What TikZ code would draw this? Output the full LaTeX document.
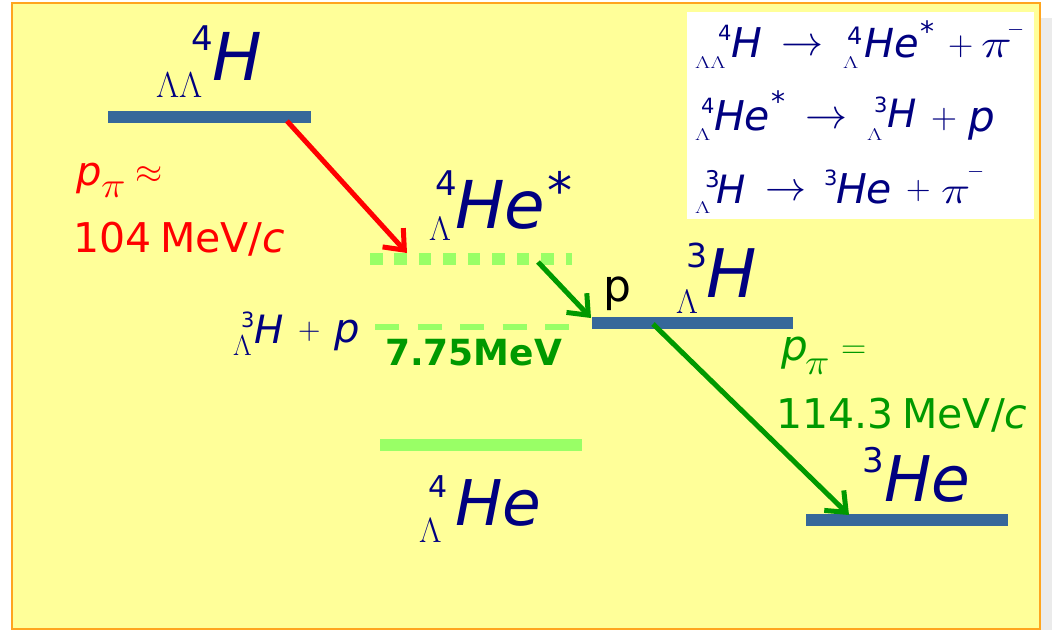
\RequirePackage{fix-cm}
\documentclass[tikz,border=0pt]{standalone}
\usepackage[no-math]{fontspec}
\setmainfont{DejaVu Sans}
\usetikzlibrary{arrows.meta}
\definecolor{navy}{RGB}{0,0,128}
\definecolor{dgreen}{RGB}{0,153,0}
\definecolor{lgreen}{RGB}{153,255,102}
\definecolor{barblue}{RGB}{54,104,154}
\definecolor{bgyellow}{RGB}{255,255,153}
\definecolor{bordor}{RGB}{255,165,30}
\definecolor{lgray}{RGB}{235,235,235}
\definecolor{pred}{RGB}{255,0,0}
\tikzset{
  lbl/.style={anchor=base west, inner sep=0pt, outer sep=0pt},
  arr/.style={line width=5pt, -{Straight Barb[length=17pt,width=28pt]}},
  barstyle/.style={fill=barblue},
  gbar/.style={fill=lgreen}
}
\newcommand\mylab[6][]{\node[lbl,#1,font=\fontsize{#5}{#5}\selectfont] (#2) at (#3,#4) {#6};}
\newcommand\sLam{\scalebox{1.4}[1]{$\Lambda$}}
\newcommand\wpi{\scalebox{1.3}[1]{$\pi$}}
\begin{document}
\begin{tikzpicture}[x=1pt,y=-1pt]
\useasboundingbox (0,0) rectangle (1052,630);
% background
\fill[white] (0,0) rectangle (1052,630);
\fill[lgray] (1041,18) rectangle (1052,630);
\fill[bgyellow] (12,3) rectangle (1040,629);
\draw[bordor, line width=2.5pt] (12,3) rectangle (1040,629);
\fill[white] (687,12) rectangle (1034,219);
% levels
\fill[barstyle] (108,111) rectangle (311,123);
\fill[barstyle] (592,317) rectangle (793,329);
\fill[barstyle] (806,514) rectangle (1008,526);
\fill[gbar] (380,439) rectangle (582,451);
\draw[lgreen, line width=11.7pt, dash pattern=on 12.5pt off 11.96pt] (370,259) -- (572,259);
\draw[lgreen, line width=6pt, dash pattern=on 24.3pt off 18.2pt] (375,327) -- (569,327);
% arrows
\coordinate (r1) at (287,121);
\coordinate (r2) at (407,253);
\coordinate (g1) at (538,262);
\coordinate (g2) at (591,318);
\coordinate (g3) at (653,324);
\coordinate (g4) at (849,515);
\draw[arr,pred] (r1) -- (r2);
\draw[arr,dgreen] (g1) -- (g2);
\draw[arr,dgreen] (g3) -- (g4);
% A
\mylab[navy]{aL}{156}{97}{36}{$\Lambda\Lambda$}
\mylab[navy]{aN}{191}{50}{34}{4}
\mylab[navy]{aH}{212}{80}{66}{\itshape H}
% B
\mylab[navy]{bL}{429}{240}{34}{$\Lambda$}
\mylab[navy]{bN}{435}{195}{34}{4}
\mylab[navy]{bH}{455}{228}{66}{\itshape He}
\mylab[navy]{bS}{547}{208}{50}{*}
% C
\mylab[navy]{cL}{233}{355}{29}{$\Lambda$}
\mylab[navy]{cN}{241}{327}{21}{3}
\mylab[navy]{cH}{254}{343}{39}{\itshape H}
\mylab[navy]{cP}{298}{339}{31}{$+$}
\mylab[navy]{cp}{334}{342}{40}{\itshape p}
% D
\mylab[dgreen]{d}{385}{365}{36}{\bfseries 7.75MeV}
% E
\mylab[pred]{ep}{76}{185}{40}{\itshape p}
\mylab[pred]{epi}{101}{197}{36}{\scalebox{1.15}[1]{$\pi$}}
\mylab[pred]{eap}{135}{183}{35}{$\approx$}
\mylab[pred]{emom}{73}{252}{41}{104\hspace{0.22em}MeV/\textit{c}}
% F
\mylab{fp}{603}{301}{44}{p}
% G
\mylab[navy]{gL}{676}{313}{34}{$\Lambda$}
\mylab[navy]{gN}{686}{267}{33}{3}
\mylab[navy]{gH}{706}{297}{67}{\itshape H}
% H
\mylab[dgreen]{hp}{781}{360}{42}{\itshape p}
\mylab[dgreen]{hpi}{805}{374}{36}{\scalebox{1.15}[1]{$\pi$}}
\mylab[dgreen]{heq}{841}{358}{35}{$=$}
\mylab[dgreen]{hmom}{776}{428}{41}{114.3\hspace{0.22em}MeV/\textit{c}}
% I
\mylab[navy]{iN}{862}{472}{34}{3}
\mylab[navy]{iH}{884}{501}{63}{\itshape He}
% J
\mylab[navy]{jL}{419}{542}{35}{$\Lambda$}
\mylab[navy]{jN}{428}{497}{30}{4}
\mylab[navy]{jH}{455}{525}{63}{\itshape He}
% white box line 1
\mylab[navy]{k1L}{695}{68}{17}{\sLam\sLam}
\mylab[navy]{k1N}{718}{40}{21}{4}
\mylab[navy]{k1H}{731}{57}{41}{\itshape H}
\mylab[navy]{k1a}{781}{55.5}{42}{$\rightarrow$}
\mylab[navy]{k1L2}{843}{68}{17}{\sLam}
\mylab[navy]{k1N2}{847}{44}{24}{4}
\mylab[navy]{k1H2}{864}{57}{40}{\itshape He}
\mylab[navy]{k1s}{920}{41}{28}{*}
\mylab[navy]{k1p}{948}{55}{35}{$+$}
\mylab[navy]{k1pi}{981}{57}{40}{\wpi}
\mylab[navy]{k1m}{1007}{35.5}{22}{$-$}
% line 2
\mylab[navy]{k2L}{695}{140}{17}{\sLam}
\mylab[navy]{k2N}{701}{113}{21}{4}
\mylab[navy]{k2H}{714}{130}{41}{\itshape He}
\mylab[navy]{k2s}{771}{111}{28}{*}
\mylab[navy]{k2a}{805}{128.5}{42}{$\rightarrow$}
\mylab[navy]{k2L2}{867}{140}{17}{\sLam}
\mylab[navy]{k2N2}{874}{112}{21}{3}
\mylab[navy]{k2H2}{887}{127.5}{39}{\itshape H}
\mylab[navy]{k2p}{931}{128}{36}{$+$}
\mylab[navy]{k2q}{968}{131}{42}{\itshape p}
% line 3
\mylab[navy]{k3L}{695}{213}{17}{\sLam}
\mylab[navy]{k3N}{705}{187}{23}{3}
\mylab[navy]{k3H}{716}{203}{39}{\itshape H}
\mylab[navy]{k3a}{765}{200}{41}{$\rightarrow$}
\mylab[navy]{k3N2}{824}{185}{21}{3}
\mylab[navy]{k3H2}{836}{203}{41}{\itshape He}
\mylab[navy]{k3p}{906}{199}{34}{$+$}
\mylab[navy]{k3pi}{941}{203}{38}{\wpi}
\mylab[navy]{k3m}{967}{177}{22}{$-$}
\end{tikzpicture}
\end{document}
